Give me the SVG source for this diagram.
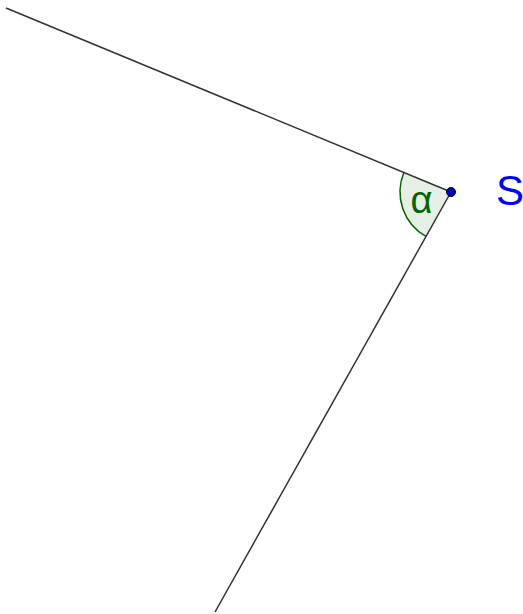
<svg xmlns="http://www.w3.org/2000/svg" width="523" height="614" viewBox="0 0 523 614">
<style>
.ln{stroke:#333;stroke-width:1.5;fill:none}
</style>
<rect width="523" height="614" fill="#fff"/>
<g id="angle">
<path d="M451,192 L403.9,172.5 A51,51 0 0 0 426,236.4 Z" fill="#006400" fill-opacity="0.1" stroke="none"/>
<path d="M403.9,172.5 A51,51 0 0 0 426,236.4" fill="none" stroke="#006400" stroke-width="1.5"/>
<text x="421.5" y="213" font-family="Liberation Sans, sans-serif" font-size="38" fill="#006400" text-anchor="middle">α</text>
</g>
<g id="connectors">
<line class="ln" x1="6" y1="8" x2="451" y2="192"/>
<line class="ln" x1="451" y1="192" x2="215" y2="612"/>
</g>
<g id="S">
<circle cx="451" cy="192" r="4.5" fill="#0000cc" stroke="#000" stroke-width="1"/>
<text x="496" y="205" font-family="Liberation Sans, sans-serif" font-size="42" fill="#0000ff">S</text>
</g>
</svg>
